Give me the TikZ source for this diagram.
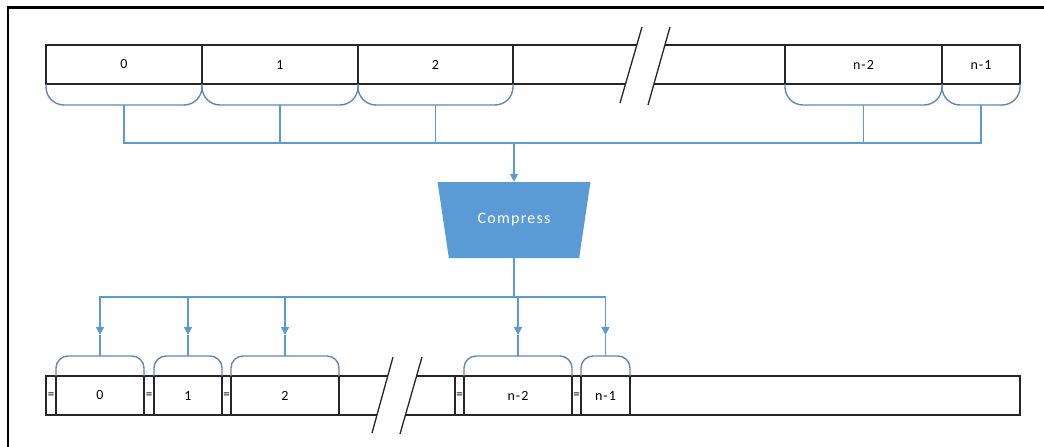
\documentclass[tikz,border=0pt]{standalone}
\usepackage{fontspec}
\setmainfont{Carlito}
\usetikzlibrary{arrows.meta,positioning,calc,shapes.geometric}
\definecolor{wireblue}{HTML}{5B9BD5}
\definecolor{bracegray}{HTML}{6487B3}

\begin{document}
\begin{tikzpicture}[x=1pt,y=-1pt,node distance=0pt,
    cell/.style={draw=black!85,line width=1.6pt,minimum height=39pt,inner sep=0pt,outer sep=0pt,
        font=\fontsize{14}{14}\selectfont\addfontfeature{LetterSpace=8}},
    hdr/.style={cell,minimum width=10pt,font=\fontsize{13}{13}\selectfont},
    bar/.style={draw=black!85,line width=1.6pt},
    wire/.style={draw=wireblue,line width=1.6pt},
    brace/.style={draw=bracegray,line width=1.4pt},
    tip/.style={-{Triangle[width=8pt,length=8pt]}}]
    \useasboundingbox (0,0) rectangle (1044,447);
    \draw[line width=2.5pt] (8,447) -- (8,7.5) -- (1044,7.5);

    % source blocks
    \node[cell,minimum width=156pt] (c0) at (124,64.5) {0};
    \node[cell,minimum width=156pt] (c1) [right=of c0] {1};
    \node[cell,minimum width=155pt] (c2) [right=of c1] {2};
    \node[cell,minimum width=157pt] (cn2) at (863.5,64.5) {n-2};
    \node[cell,minimum width=78pt] (cn1) [right=of cn2] {n-1};
    \draw[bar] (c2.north east) -- (637,45) (665,45) -- (cn2.north west);
    \draw[bar] (c2.south east) -- (625.5,84) (654,84) -- (cn2.south west);
    \draw[bar,line width=1.3pt] (620,103) -- (642,27) (648,105) -- (670,27);

    % compressor
    \node[trapezium,shape border rotate=180,trapezium left angle=64,trapezium right angle=64,
        trapezium stretches=true,minimum width=154pt,minimum height=76pt,inner sep=0pt,
        fill=wireblue,text=white,font=\fontsize{16}{16}\selectfont\addfontfeature{LetterSpace=8}]
        (cmp) at (514,220) {Compress};

    % packed blocks with headers
    \node[hdr,anchor=west] (h0) at (46,395.5) {=};
    \node[cell,minimum width=88pt] (b0) [right=of h0] {0};
    \node[hdr] (h1) [right=of b0] {=};
    \node[cell,minimum width=68pt] (b1) [right=of h1] {1};
    \node[hdr,minimum width=9pt] (h2) [right=of b1] {=};
    \node[cell,minimum width=108pt] (b2) [right=of h2] {2};
    \node[hdr,anchor=west,minimum width=9pt] (hn2) at (455,395.5) {=};
    \node[cell,minimum width=108pt] (bn2) [right=of hn2] {n-2};
    \node[hdr,minimum width=9pt] (hn1) [right=of bn2] {=};
    \node[cell,minimum width=49pt] (bn1) [right=of hn1] {n-1};
    \draw[bar] (b2.north east) -- (388,376) (417,376) -- (hn2.north west);
    \draw[bar] (b2.south east) -- (377,415) (405,415) -- (hn2.south west);
    \draw[bar] (bn1.north east) -- (1020,376) -- (1020,415) -- (bn1.south east);
    \draw[bar,line width=1.3pt] (372,433) -- (393,357) (400,434) -- (422,357);

    % gather into the compressor
    \coordinate (join) at ($(cmp.north)+(0,-39)$);
    \foreach \c in {c0,c1,c2,cn2,cn1}{
        \draw[brace,rounded corners=18pt] (\c.south west) -- ++(0,21) -| (\c.south east);
        \coordinate (\c-m) at ($(\c.south)+(0,21)$);
        \draw[wire] (\c-m) |- (join);
    }
    \draw[wire,tip] (join) -- (cmp.north);

    % scatter to the packed blocks
    \coordinate (split) at ($(cmp.south)+(0,39)$);
    \draw[wire] (cmp.south) -- (split);
    \foreach \c in {b0,b1,b2,bn2,bn1}{
        \draw[brace,rounded corners=12pt] (\c.north west) -- ++(0,-20) -| (\c.north east);
        \coordinate (\c-m) at ($(\c.north)+(0,-20)$);
        \coordinate (\c-a) at ($(\c.north)+(0,-41)$);
        \draw[wire,tip] (split) -| (\c-a);
        \draw[wire] (\c-a) -- (\c-m);
    }
\end{tikzpicture}
\end{document}
